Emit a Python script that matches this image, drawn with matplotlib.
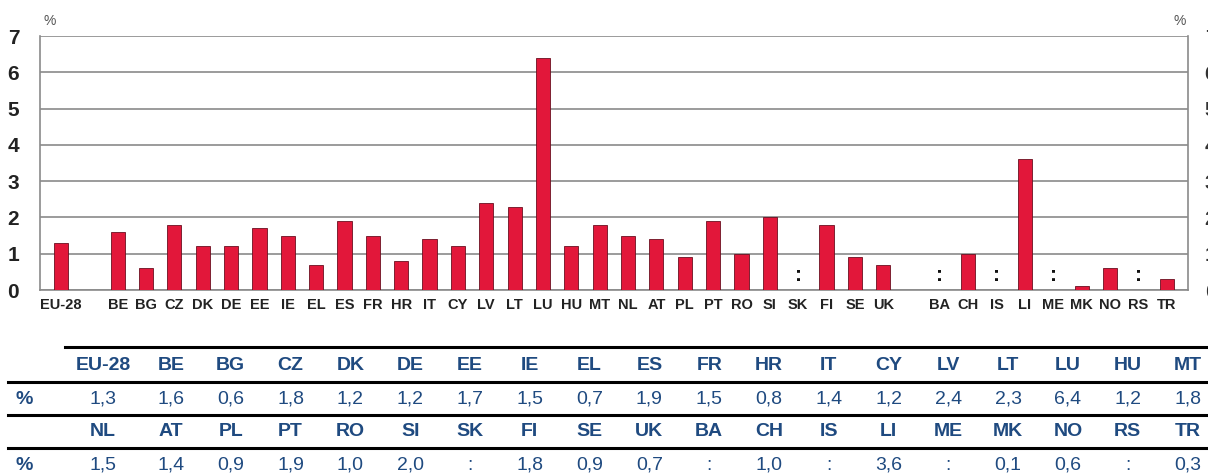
import numpy as np
import matplotlib
matplotlib.use("Agg")
import matplotlib.pyplot as plt

# =====================
#   DATA
# =====================
chart_labels = ["EU-28", "", "BE", "BG", "CZ", "DK", "DE", "EE", "IE", "EL", "ES", "FR",
                "HR", "IT", "CY", "LV", "LT", "LU", "HU", "MT", "NL", "AT", "PL", "PT",
                "RO", "SI", "SK", "FI", "SE", "UK", "", "BA", "CH", "IS", "LI", "ME",
                "MK", "NO", "RS", "TR"]
chart_values = [1.3, None, 1.6, 0.6, 1.8, 1.2, 1.2, 1.7, 1.5, 0.7, 1.9, 1.5,
                0.8, 1.4, 1.2, 2.4, 2.3, 6.4, 1.2, 1.8, 1.5, 1.4, 0.9, 1.9,
                1.0, 2.0, ":", 1.8, 0.9, 0.7, None, ":", 1.0, ":", 3.6, ":",
                0.1, 0.6, ":", 0.3]

table_head_1 = ["EU-28", "BE", "BG", "CZ", "DK", "DE", "EE", "IE", "EL", "ES",
                "FR", "HR", "IT", "CY", "LV", "LT", "LU", "HU", "MT"]
table_vals_1 = ["1,3", "1,6", "0,6", "1,8", "1,2", "1,2", "1,7", "1,5", "0,7", "1,9",
                "1,5", "0,8", "1,4", "1,2", "2,4", "2,3", "6,4", "1,2", "1,8"]
table_head_2 = ["NL", "AT", "PL", "PT", "RO", "SI", "SK", "FI", "SE", "UK",
                "BA", "CH", "IS", "LI", "ME", "MK", "NO", "RS", "TR"]
table_vals_2 = ["1,5", "1,4", "0,9", "1,9", "1,0", "2,0", ":", "1,8", "0,9", "0,7",
                ":", "1,0", ":", "3,6", ":", "0,1", "0,6", ":", "0,3"]

y_ticks = [0, 1, 2, 3, 4, 5, 6, 7]

# =====================
#   STYLE
# =====================
W, H = 1208, 476
NARROW = ["Liberation Sans Narrow", "Liberation Sans", "DejaVu Sans"]
SANS = ["Liberation Sans", "DejaVu Sans"]
BAR_COLOR = "#e2173a"
BAR_EDGE = "#6b1020"
GRID_COLOR = "#8a8a8a"
BLUE = "#1f4a80"

fig = plt.figure(figsize=(W / 100, H / 100), dpi=100)

# =====================
#   BAR CHART
# =====================
px_l, px_r, px_t, px_b = 40, 1188, 36, 290
ax = fig.add_axes([px_l / W, 1 - px_b / H, (px_r - px_l) / W, (px_b - px_t) / H])

x = np.arange(len(chart_labels))
heights = [v if isinstance(v, float) else np.nan for v in chart_values]
ax.bar(x, heights, width=0.5, color=BAR_COLOR, edgecolor=BAR_EDGE, linewidth=0.6, zorder=3)
for xi, v in zip(x, chart_values):
    if v == ":":
        ax.text(xi, 0.4, ":", ha="center", va="center", fontsize=15,
                fontweight="bold", family=SANS, color="#111111", zorder=4)

ax.set_xlim(-0.74, 39.75)
ax.set_ylim(0, 7)
ax.set_yticks(y_ticks)
ax.yaxis.grid(True, color=GRID_COLOR, linewidth=1.2, zorder=0)
ax.set_axisbelow(True)
ax.set_xticks(x)
ax.set_xticklabels(chart_labels, family=NARROW, fontweight="bold", fontsize=10.5, color="#222222")
ax.tick_params(axis="x", length=0, pad=6)
ax.tick_params(axis="y", length=0, pad=15, labelsize=15)
for lab in ax.get_yticklabels():
    lab.set_family(NARROW)
    lab.set_fontweight("bold")
    lab.set_color("#222222")
for side in ["left", "bottom", "right"]:
    ax.spines[side].set_color(GRID_COLOR)
    ax.spines[side].set_linewidth(1.2)
ax.spines["top"].set_visible(False)

# right axis, cut off at the figure edge as in the source
ax2 = ax.twinx()
ax2.set_ylim(0, 7)
ax2.set_yticks(y_ticks)
ax2.tick_params(axis="y", length=0, pad=12, labelsize=15, labelcolor="#333333")
for lab in ax2.get_yticklabels():
    lab.set_family(NARROW)
    lab.set_fontweight("bold")
for side in ["left", "bottom", "right", "top"]:
    ax2.spines[side].set_visible(False)

fig.text(50 / W, 1 - 21 / H, "%", fontsize=10, color="#555555", family=SANS,
         ha="center", va="center")
fig.text(1180 / W, 1 - 21 / H, "%", fontsize=10, color="#555555", family=SANS,
         ha="center", va="center")

# =====================
#   TABLE
# =====================
tab = fig.add_axes([0, 0, 1, 1])
tab.set_xlim(0, W)
tab.set_ylim(H, 0)
tab.axis("off")

col_x = [103] + [171 + 59.8 * i for i in range(18)]
rows = [(365, table_head_1, True), (399, table_vals_1, False),
        (432, table_head_2, True), (465, table_vals_2, False)]
for y, cells, is_head in rows:
    if not is_head:
        tab.text(24, y, "%", ha="center", va="center", fontsize=14,
                 fontweight="bold", color=BLUE, family=SANS)
    for cx, txt in zip(col_x, cells):
        tab.text(cx, y, txt, ha="center", va="center", fontsize=14,
                 fontweight="bold" if is_head else "normal", color=BLUE, family=SANS)

tab.plot([65, W], [347, 347], color="black", linewidth=2.2)
for y in [382, 415, 448]:
    tab.plot([8, W], [y, y], color="black", linewidth=2.2)

fig.savefig("out.png", dpi=100)
